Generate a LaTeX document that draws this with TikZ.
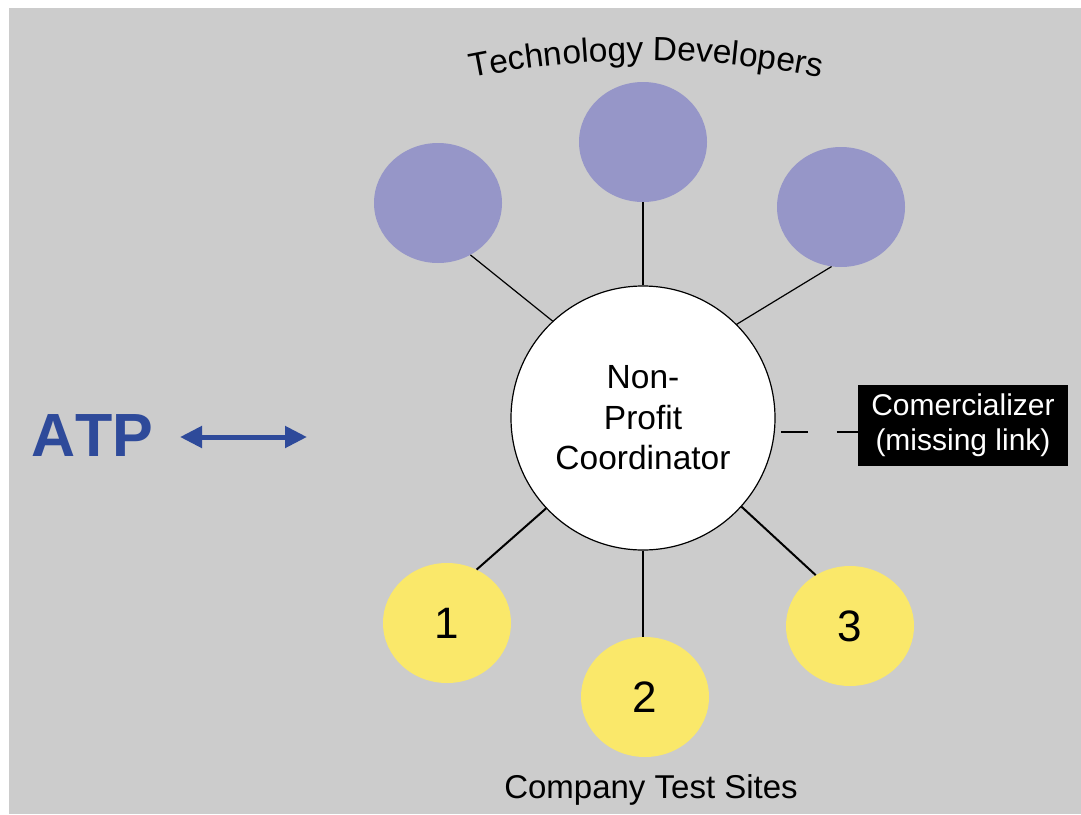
\documentclass[tikz,border=0pt]{standalone}
\usepackage{fontspec}
\setmainfont{Liberation Sans}
\usepackage{xcolor}
\usepackage{tikz}
\usetikzlibrary{shapes,arrows.meta,positioning,decorations.text}

\definecolor{bggray}{HTML}{CCCCCC}
\definecolor{devpurple}{HTML}{9696C8}
\definecolor{siteyellow}{HTML}{FAE86A}
\definecolor{atpblue}{HTML}{2E4A9A}

\begin{document}
\begin{tikzpicture}[
    x=1pt, y=-1pt,
    developer/.style={ellipse, fill=devpurple, minimum width=128pt, minimum height=120pt, inner sep=0pt},
    testsite/.style={ellipse, fill=siteyellow, minimum width=128pt, minimum height=120pt, inner sep=0pt,
        font=\fontsize{44pt}{50pt}\selectfont},
    coordinator/.style={circle, draw, line width=1.2pt, fill=white, minimum size=264pt, inner sep=0pt,
        align=center, font=\fontsize{33.5pt}{40.5pt}\selectfont},
    missing/.style={rectangle, fill=black, text=white, minimum width=210pt, minimum height=81pt,
        inner sep=0pt, align=center, font=\fontsize{30pt}{35pt}\selectfont},
    thinlink/.style={line width=1.2pt},
    thicklink/.style={line width=2pt}
]
    % Background
    \useasboundingbox (0,0) rectangle (1081,814);
    \fill[white] (0,0) rectangle (1081,814);
    \fill[bggray] (9,8) rectangle (1081,814);

    % Hub
    \node[coordinator] (npc) at (643,418) {Non-\\Profit\\Coordinator};

    % Technology developers
    \node[developer] (tdL) at (438,203) {};
    \node[developer] (tdM) at (643,142) {};
    \node[developer] (tdR) at (841,207) {};
    \path[decorate, decoration={text along path, text align=center,
        text={|\fontsize{33.5pt}{40pt}\selectfont|Technology Developers}}]
        (466,79) .. controls (586,54) and (706,54) .. (826,79);

    % Company test sites
    \node[testsite] (ts1) at (447,623) {1};
    \node[testsite] (ts2) at (645,697) {2};
    \node[testsite] (ts3) at (850,626) {3};
    \node[anchor=base, font=\fontsize{33pt}{40pt}\selectfont] (sites) at (651,798) {Company Test Sites};

    % Commercializer
    \node[missing] (comm) at (963,425.5) {Comercializer\\(missing link)};

    % ATP
    \node[anchor=base west, inner sep=0pt, text=atpblue,
        font=\fontsize{61pt}{70pt}\selectfont\bfseries\addfontfeatures{Kerning=Off}] (atp) at (31,456) {ATP};
    \coordinate (arrL) at (180,437);
    \coordinate (arrR) at (307,437);
    \draw[atpblue, line width=5pt, {Triangle[length=22pt,width=21pt]}-{Triangle[length=22pt,width=21pt]}] (arrL) -- (arrR);

    % Links
    \draw[thinlink] (tdL.-58) -- (npc.133.5);
    \draw[thicklink] (tdM.south) -- (npc.north);
    \draw[thinlink] (tdR.261.7) -- (npc.45.3);
    \draw[thicklink] (npc.223) -- (ts1.61);
    \draw[thicklink] (npc.south) -- (npc.south |- ts2.north);
    \draw[thicklink] (npc.318.7) -- (ts3.124);
    \draw[line width=1.6pt, dash pattern=on 27pt off 29pt, shorten <=6pt] (npc.-6) -- (npc.-6 -| comm.west);
\end{tikzpicture}
\end{document}
